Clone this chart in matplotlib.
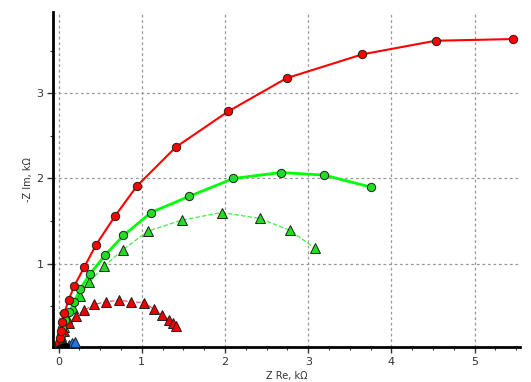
import matplotlib.pyplot as plt
from matplotlib.ticker import MultipleLocator

# red circles (solid)
red_c_x = [0.005, 0.012, 0.025, 0.045, 0.07, 0.12, 0.19, 0.31, 0.45, 0.68, 0.94, 1.41, 2.04, 2.74, 3.65, 4.53, 5.46]
red_c_y = [0.06, 0.13, 0.21, 0.31, 0.42, 0.57, 0.74, 0.96, 1.22, 1.56, 1.91, 2.37, 2.79, 3.18, 3.46, 3.62, 3.64]

# green circles (solid)
grn_c_x = [0.005, 0.012, 0.025, 0.045, 0.08, 0.13, 0.19, 0.26, 0.38, 0.56, 0.78, 1.11, 1.57, 2.10, 2.67, 3.19, 3.75]
grn_c_y = [0.04, 0.09, 0.16, 0.24, 0.33, 0.43, 0.55, 0.70, 0.88, 1.10, 1.33, 1.60, 1.79, 2.00, 2.07, 2.04, 1.90]

# green triangles (dashed)
grn_t_x = [0.005, 0.015, 0.03, 0.06, 0.10, 0.17, 0.26, 0.37, 0.55, 0.77, 1.07, 1.48, 1.96, 2.42, 2.78, 3.08]
grn_t_y = [0.03, 0.08, 0.15, 0.25, 0.36, 0.48, 0.62, 0.78, 0.97, 1.16, 1.38, 1.51, 1.60, 1.53, 1.39, 1.18]

# red triangles (dashed)
red_t_x = [0.005, 0.015, 0.03, 0.06, 0.12, 0.21, 0.31, 0.43, 0.57, 0.73, 0.87, 1.03, 1.15, 1.24, 1.33, 1.38, 1.41]
red_t_y = [0.03, 0.07, 0.13, 0.21, 0.30, 0.38, 0.45, 0.52, 0.55, 0.57, 0.55, 0.54, 0.46, 0.40, 0.34, 0.30, 0.26]

# blue triangles
blu_t_x = [0.01, 0.04, 0.08, 0.12, 0.16, 0.20]
blu_t_y = [0.01, 0.02, 0.03, 0.04, 0.06, 0.08]

# black points near origin
blk_x = [0.005, 0.02, 0.04, 0.06, 0.09]
blk_y = [0.005, 0.01, 0.015, 0.02, 0.03]

fig = plt.figure(figsize=(5.31, 3.82), dpi=100)
ax = fig.add_axes([0.1, 0.092, 0.88, 0.877])

ax.plot(red_c_x, red_c_y, '-o', color='#ff0000', lw=1.5, ms=6, mfc='#ff0000', mec='#202020', mew=0.7, zorder=5)
ax.plot(grn_c_x, grn_c_y, '-o', color='#00ff00', lw=2, ms=6, mfc='#22dd22', mec='#202020', mew=0.7, zorder=4)
ax.plot(grn_t_x, grn_t_y, '--^', color='#44ee44', lw=0.9, ms=7.5, mfc='#22dd22', mec='#202020', mew=0.7, zorder=3)
ax.plot(red_t_x, red_t_y, '--^', color='#ff5555', lw=0.9, ms=7.5, mfc='#ee0000', mec='#202020', mew=0.7, zorder=3)
ax.plot(blu_t_x, blu_t_y, '^', ms=7, mfc='#2277dd', mec='#202020', mew=0.7, zorder=6)
ax.plot(blk_x, blk_y, 'o-', color='black', ms=4, zorder=7)

ax.set_xlim(-0.066, 5.55)
ax.set_ylim(0.02, 3.96)
ax.xaxis.set_major_locator(MultipleLocator(1))
ax.xaxis.set_minor_locator(MultipleLocator(0.25))
ax.set_yticks([1, 2, 3])
ax.yaxis.set_minor_locator(MultipleLocator(0.5))

ax.grid(True, which='major', color='#999999', linestyle=(0, (2.2, 2.2)), lw=0.9)
ax.set_axisbelow(True)

for s in ['top', 'right']:
    ax.spines[s].set_visible(False)
for s in ['left', 'bottom']:
    ax.spines[s].set_linewidth(2)

ax.tick_params(which='major', length=4, width=1, labelsize=8, colors='#333333', pad=3)
ax.tick_params(which='minor', length=2.5, width=0.8, colors='#333333')

ax.set_xlabel('Z Re, kΩ', fontsize=7, color='#333333', labelpad=3)
ax.set_ylabel('-Z Im, kΩ', fontsize=7, color='#333333', labelpad=2)

fig.savefig('out.png', dpi=100)
